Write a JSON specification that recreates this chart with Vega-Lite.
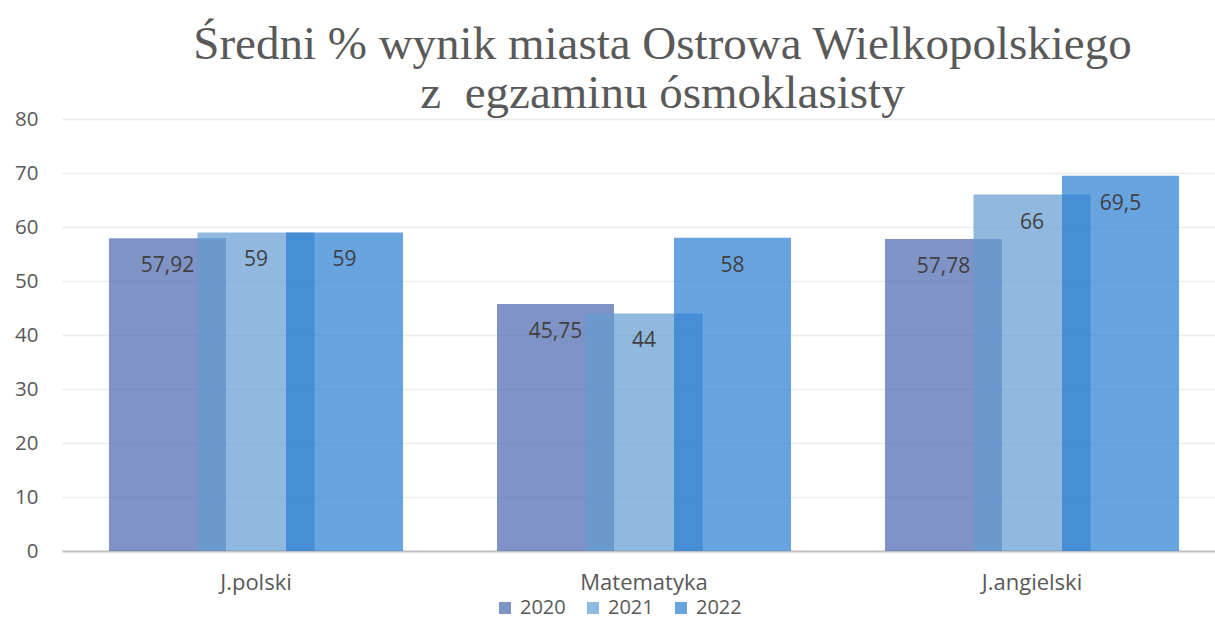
{
  "$schema": "https://vega.github.io/schema/vega-lite/v6.json",
  "width": 1153,
  "height": 432,
  "autosize": {"type": "none"},
  "padding": {"left": 62, "top": 119, "right": 0, "bottom": 90},
  "background": "white",
  "config": {
    "locale": {"number": {"decimal": ",", "thousands": " ", "grouping": [3], "currency": ["", " zł"]}},
    "view": {"stroke": null},
    "font": "Open Sans"
  },
  "title": {
    "text": ["Średni % wynik miasta Ostrowa Wielkopolskiego", "z\u00a0 egzaminu ósmoklasisty"],
    "font": "Liberation Serif",
    "fontSize": 47,
    "fontWeight": "normal",
    "color": "#595959",
    "anchor": "middle",
    "frame": "group",
    "dx": 24,
    "offset": -9,
    "lineHeight": 49
  },
  "data": {
    "values": [
      {"przedmiot": "J.polski", "rok": "2020", "wynik": 57.92},
      {"przedmiot": "Matematyka", "rok": "2020", "wynik": 45.75},
      {"przedmiot": "J.angielski", "rok": "2020", "wynik": 57.78},
      {"przedmiot": "J.polski", "rok": "2021", "wynik": 59},
      {"przedmiot": "Matematyka", "rok": "2021", "wynik": 44},
      {"przedmiot": "J.angielski", "rok": "2021", "wynik": 66},
      {"przedmiot": "J.polski", "rok": "2022", "wynik": 59},
      {"przedmiot": "Matematyka", "rok": "2022", "wynik": 58},
      {"przedmiot": "J.angielski", "rok": "2022", "wynik": 69.5}
    ]
  },
  "encoding": {
    "x": {
      "field": "przedmiot",
      "type": "nominal",
      "sort": ["J.polski", "Matematyka", "J.angielski"],
      "scale": {"range": [0, 1164], "paddingInner": 0, "paddingOuter": 0},
      "axis": {
        "title": null,
        "labelAngle": 0,
        "ticks": false,
        "grid": false,
        "domainColor": "#bfbfbf",
        "domainWidth": 2,
        "labelPadding": 21,
        "labelFontSize": 22,
        "labelColor": "#595959"
      }
    },
    "xOffset": {
      "field": "rok",
      "type": "nominal",
      "sort": ["2020", "2021", "2022"],
      "scale": {"paddingInner": 0, "paddingOuter": 0.692}
    },
    "y": {
      "field": "wynik",
      "type": "quantitative",
      "scale": {"domain": [0, 80]},
      "axis": {
        "title": null,
        "values": [0, 10, 20, 30, 40, 50, 60, 70, 80],
        "domain": false,
        "ticks": false,
        "labelPadding": 24,
        "labelFontSize": 20.5,
        "labelColor": "#595959",
        "gridColor": "#ececec",
        "gridWidth": 1.5
      }
    }
  },
  "layer": [
    {
      "mark": {"type": "bar", "width": 117, "opacity": 0.7},
      "encoding": {
        "color": {
          "field": "rok",
          "type": "nominal",
          "scale": {"domain": ["2020", "2021", "2022"], "range": ["#4a65ae", "#639bd1", "#267dd3"]},
          "legend": {
            "title": null,
            "orient": "none",
            "legendX": 433,
            "legendY": 479,
            "direction": "horizontal",
            "symbolType": "square",
            "symbolSize": 144,
            "symbolStrokeWidth": 0,
            "labelFontSize": 20,
            "labelColor": "#595959",
            "labelOffset": 5,
            "columnPadding": 17,
            "padding": 0
          }
        }
      }
    },
    {
      "mark": {"type": "text", "dy": 28, "fontSize": 21, "fill": "#404040"},
      "encoding": {
        "text": {"field": "wynik", "type": "quantitative", "format": ".4~g"}
      }
    }
  ]
}
